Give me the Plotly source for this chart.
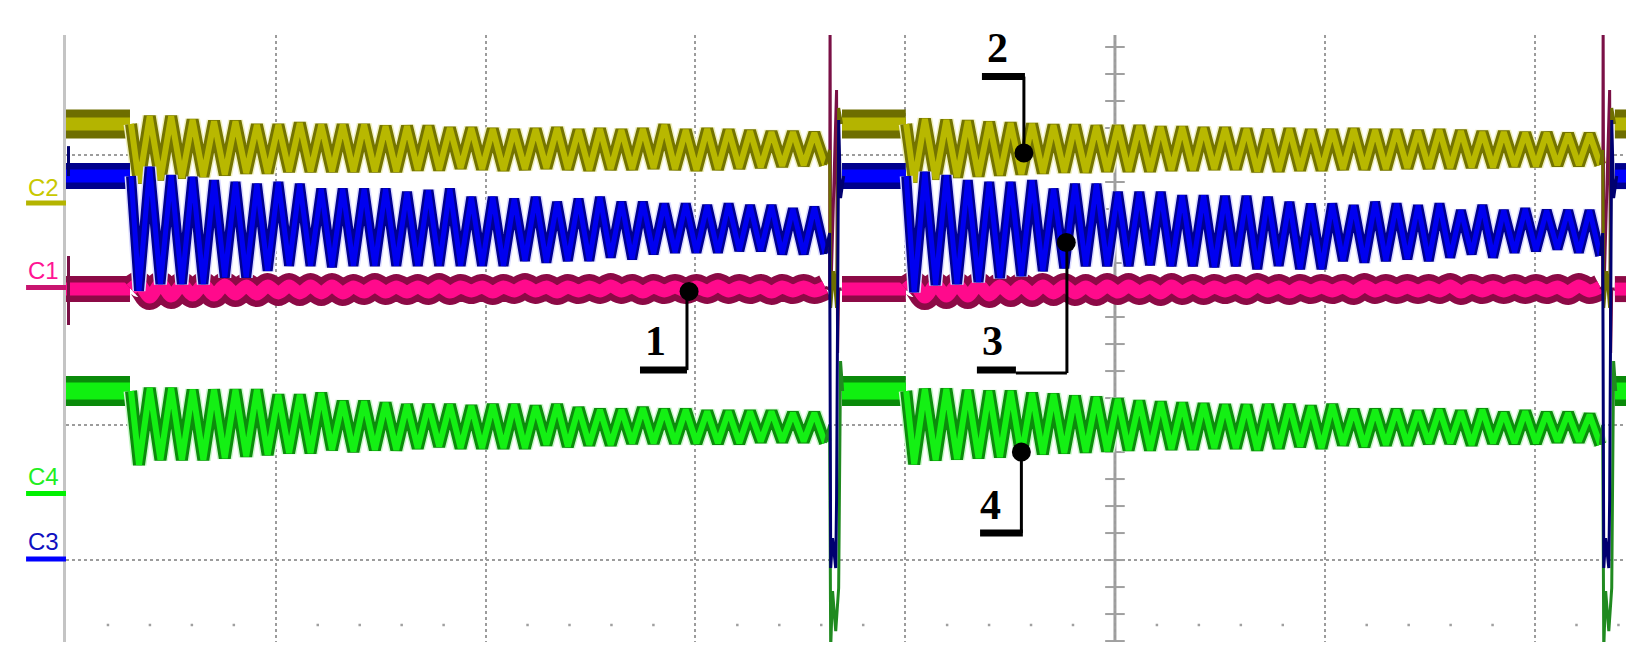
import numpy as np
import plotly.graph_objects as go

# Screen units are scope graticule divisions (x: time, y: screen height).
X_MAX = 7.436
Y_MIN, Y_MAX = -0.607, 3.889

half_period = 0.0511                 # trough -> next peak, div
burst_start = [0.310, 4.005]         # steady part ends, oscillation begins
burst_first = [0.348, 4.043]         # first trough of each burst
spike_time = [3.640, 7.325]          # switching transient
steady_windows = [(0.0, 0.305), (3.699, 4.003), (7.383, 7.44)]

# steady (pre-disturbance) levels
level = {'C1': 2.007, 'C2': 3.230, 'C3': 2.844, 'C4': 1.252}

# C2 (olive) extrema, burst A and B
c2_a_troughs = [2.793, 2.817, 2.830, 2.842, 2.854, 2.867, 2.867, 2.879, 2.879, 2.879, 2.879, 2.879, 2.879, 2.891, 2.891, 2.904, 2.896,
                2.889, 2.896, 2.904, 2.896, 2.889, 2.896, 2.896, 2.904, 2.896, 2.889, 2.896, 2.904, 2.911, 2.919, 2.926, 2.926]
c2_a_peaks = [3.287, 3.287, 3.261, 3.250, 3.250, 3.224, 3.224, 3.237, 3.224, 3.224, 3.224, 3.213, 3.213, 3.213, 3.200, 3.200,
              3.193, 3.185, 3.193, 3.200, 3.185, 3.193, 3.185, 3.193, 3.222, 3.185, 3.193, 3.185, 3.178, 3.170, 3.170, 3.163]
c2_b_troughs = [2.800, 2.822, 2.837, 2.844, 2.852, 2.859, 2.867, 2.874, 2.874, 2.881, 2.881, 2.881, 2.889, 2.889, 2.896, 2.896, 2.879,
                2.881, 2.889, 2.889, 2.896, 2.896, 2.896, 2.904, 2.904, 2.904, 2.911, 2.911, 2.919, 2.919, 2.926, 2.926, 2.926]
c2_b_peaks = [3.267, 3.259, 3.252, 3.244, 3.237, 3.230, 3.222, 3.222, 3.215, 3.215, 3.215, 3.207, 3.207, 3.200, 3.200, 3.193,
              3.187, 3.193, 3.185, 3.185, 3.193, 3.185, 3.185, 3.178, 3.185, 3.178, 3.170, 3.170, 3.163, 3.163, 3.156, 3.156]

# C3 (blue)
c3_a_troughs = [1.995, 2.044, 2.044, 2.044, 2.094, 2.094, 2.143, 2.180, 2.180, 2.170, 2.180, 2.180, 2.180, 2.180, 2.180, 2.180, 2.180,
                2.180, 2.217, 2.205, 2.217, 2.217, 2.242, 2.230, 2.267, 2.279, 2.279, 2.279, 2.291, 2.291, 2.267, 2.267, 2.267]
c3_a_peaks = [2.911, 2.850, 2.837, 2.813, 2.800, 2.787, 2.800, 2.787, 2.750, 2.750, 2.750, 2.750, 2.726, 2.739, 2.750, 2.689,
              2.689, 2.676, 2.689, 2.652, 2.676, 2.689, 2.652, 2.652, 2.639, 2.639, 2.627, 2.639, 2.627, 2.627, 2.602, 2.615]
c3_b_troughs = [1.985, 2.037, 2.044, 2.059, 2.089, 2.104, 2.141, 2.163, 2.178, 2.178, 2.178, 2.185, 2.178, 2.178, 2.170, 2.178, 2.156,
                2.180, 2.156, 2.156, 2.217, 2.205, 2.217, 2.230, 2.217, 2.242, 2.267, 2.242, 2.279, 2.291, 2.304, 2.279, 2.254]
c3_b_peaks = [2.874, 2.850, 2.813, 2.800, 2.800, 2.813, 2.750, 2.787, 2.787, 2.726, 2.726, 2.726, 2.701, 2.701, 2.696, 2.696,
              2.689, 2.652, 2.639, 2.639, 2.627, 2.652, 2.639, 2.627, 2.639, 2.590, 2.627, 2.590, 2.602, 2.590, 2.590, 2.590]

# C4 (green)
c4_a_troughs = [0.706, 0.743, 0.743, 0.743, 0.756, 0.768, 0.780, 0.793, 0.793, 0.817, 0.805, 0.817, 0.817, 0.830, 0.842, 0.830, 0.830,
                0.830, 0.830, 0.854, 0.842, 0.854, 0.854, 0.867, 0.867, 0.867, 0.867, 0.867, 0.867, 0.879, 0.879, 0.879, 0.867]
c4_a_peaks = [1.274, 1.274, 1.261, 1.261, 1.261, 1.261, 1.224, 1.224, 1.237, 1.176, 1.176, 1.163, 1.150, 1.150, 1.150, 1.141,
              1.150, 1.150, 1.139, 1.150, 1.126, 1.113, 1.113, 1.126, 1.113, 1.113, 1.101, 1.101, 1.101, 1.101, 1.089, 1.089]
c4_b_troughs = [0.711, 0.741, 0.748, 0.756, 0.763, 0.770, 0.785, 0.793, 0.800, 0.807, 0.815, 0.815, 0.822, 0.822, 0.830, 0.830, 0.817,
                0.830, 0.842, 0.830, 0.854, 0.842, 0.854, 0.854, 0.867, 0.867, 0.854, 0.867, 0.867, 0.867, 0.879, 0.879, 0.854]
c4_b_peaks = [1.267, 1.267, 1.259, 1.252, 1.252, 1.237, 1.230, 1.215, 1.207, 1.193, 1.178, 1.170, 1.163, 1.156, 1.148, 1.148,
              1.150, 1.150, 1.139, 1.150, 1.113, 1.113, 1.113, 1.101, 1.113, 1.101, 1.113, 1.089, 1.101, 1.089, 1.089, 1.076]

# C1 (magenta) - small ripple in anti-phase (values at trough / peak instants of the others)
c1_a_up = [2.044, 2.044, 2.037, 2.037, 2.037, 2.030, 2.030, 2.030, 2.030, 2.030, 2.022, 2.030, 2.022, 2.022, 2.030, 2.022, 2.022,
           2.022, 2.030, 2.022, 2.022, 2.022, 2.030, 2.022, 2.022, 2.022, 2.022, 2.030, 2.022, 2.022, 2.022, 2.022, 2.022]
c1_a_dn = [1.948, 1.956, 1.963, 1.963, 1.970, 1.970, 1.978, 1.978, 1.978, 1.978, 1.985, 1.985, 1.985, 1.985, 1.985, 1.993,
           1.985, 1.993, 1.993, 1.985, 1.993, 1.993, 1.993, 1.985, 1.993, 1.993, 1.993, 1.993, 1.993, 1.985, 1.993, 1.993]
c1_b_up = [2.044, 2.037, 2.037, 2.037, 2.030, 2.030, 2.030, 2.030, 2.022, 2.030, 2.030, 2.022, 2.030, 2.022, 2.022, 2.022, 2.030,
           2.022, 2.022, 2.022, 2.022, 2.030, 2.022, 2.022, 2.022, 2.030, 2.022, 2.022, 2.022, 2.022, 2.022, 2.030, 2.022]
c1_b_dn = [1.948, 1.956, 1.956, 1.963, 1.970, 1.970, 1.978, 1.978, 1.978, 1.985, 1.985, 1.978, 1.985, 1.985, 1.993, 1.985,
           1.993, 1.985, 1.993, 1.993, 1.985, 1.993, 1.993, 1.993, 1.993, 1.985, 1.993, 1.993, 1.993, 1.993, 1.985, 1.993]

# switching transient: time offsets from spike_time and screen values
spike_dt = {'C1': [0, 0.002, 0.005, 0.019, 0.033, 0.038, 0.043, 0.057],
            'C2': [0, 0.005, 0.019, 0.033, 0.043, 0.057],
            'C3': [0, 0.005, 0.014, 0.029, 0.033, 0.043, 0.052, 0.067],
            'C4': [0, 0.005, 0.014, 0.029, 0.043, 0.052, 0.062]}
spike_val = {'C1': [2.007, 3.978, 1.941, 2.704, 3.481, 1.533, 2.007, 2.007],
             'C2': [3.037, 1.867, 2.141, 1.867, 3.348, 3.230],
             'C3': [2.422, -0.059, 0.163, -0.059, 0.444, 3.259, 2.681, 2.844],
             'C4': [1.000, -0.652, -0.230, -0.526, -0.207, 1.474, 1.252]}

bursts = {'C1': [(c1_a_up, c1_a_dn), (c1_b_up, c1_b_dn)],
          'C2': [(c2_a_troughs, c2_a_peaks), (c2_b_troughs, c2_b_peaks)],
          'C3': [(c3_a_troughs, c3_a_peaks), (c3_b_troughs, c3_b_peaks)],
          'C4': [(c4_a_troughs, c4_a_peaks), (c4_b_troughs, c4_b_peaks)]}

# channel ground markers at the left edge
marker_text_y = {'C2': 2.756, 'C1': 2.144, 'C4': 0.619, 'C3': 0.137}
marker_line_y = {'C2': 2.644, 'C1': 2.019, 'C4': 0.493, 'C3': 0.007}

styles = {
    'C1': dict(steady=[('#8c0a46', 26), ('#ff0a8c', 13)], osc=[('#8c0a46', 26), ('#ff0a8c', 13)], shape='spline',
               spike=('#7a1046', 3), text='#ff1493', mark='#c81470'),
    'C2': dict(steady=[('#6e6e00', 29), ('#b4b400', 13)], osc=[('#f0f0c0', 15), ('#747400', 12), ('#b8b800', 6)], shape='linear',
               spike=('#6e6e00', 3), text='#c8c800', mark='#b4b400'),
    'C3': dict(steady=[('#00008c', 26), ('#0000ff', 13)], osc=[('#dcdcff', 13), ('#000090', 10), ('#0000f0', 5)], shape='linear',
               spike=('#000070', 3), text='#1010c0', mark='#0000ff'),
    'C4': dict(steady=[('#0a8a0a', 30), ('#10f010', 17)], osc=[('#ccf8cc', 15), ('#0c8c0c', 12), ('#14f014', 6)], shape='linear',
               spike=('#208a20', 3), text='#22ee22', mark='#00f000'),
}

# numbered callouts: text position, underline bar, leader path, dot
callouts = [
    dict(n='1', text=(2.812, 1.62), bar=(2.736, 2.960, 1.407), path=[(2.960, 1.407), (2.960, 1.990)], dot=(2.970, 1.990)),
    dict(n='2', text=(4.438, 3.79), bar=(4.366, 4.571, 3.581), path=[(4.566, 3.581), (4.566, 3.015)], dot=(4.566, 3.015)),
    dict(n='3', text=(4.416, 1.62), bar=(4.342, 4.528, 1.407), path=[(4.528, 1.385), (4.771, 1.385), (4.771, 2.352)], dot=(4.768, 2.352)),
    dict(n='4', text=(4.407, 0.41), bar=(4.357, 4.561, 0.200), path=[(4.554, 0.200), (4.554, 0.800)], dot=(4.554, 0.800)),
]


def burst_xy(t_start, t_first, lvl, first, second):
    vals = []
    for i in range(len(first)):
        vals.append(first[i])
        if i < len(second):
            vals.append(second[i])
    t = t_first + half_period * np.arange(len(vals))
    return [t_start] + list(t), [lvl] + vals


def to_paper(v):
    return (v - Y_MIN) / (Y_MAX - Y_MIN)


fig = go.Figure()

# graticule: centre axis ticks and the row of dots near the bottom edge
ticks_y = np.arange(-0.6, 3.81, 0.2)
fig.add_trace(go.Scatter(x=[5] * len(ticks_y), y=ticks_y, mode='markers', hoverinfo='skip',
                         marker=dict(symbol='line-ew', size=14, line=dict(color='#a0a0a0', width=2))))
dots_x = [round(v, 2) for v in np.arange(0.2, X_MAX, 0.2) if abs(v - round(v)) > 0.05]
fig.add_trace(go.Scatter(x=dots_x, y=[-0.481] * len(dots_x), mode='markers', hoverinfo='skip',
                         marker=dict(symbol='square', size=2.5, color='#a0a0a0')))

spike_traces = []
for ch in ['C1', 'C2', 'C4', 'C3']:
    st = styles[ch]
    sx, sy = [], []
    for a, b in steady_windows:
        sx += [a, b, None]
        sy += [level[ch], level[ch], None]
    for color, w in st['steady']:
        fig.add_trace(go.Scatter(x=sx, y=sy, mode='lines', line=dict(color=color, width=w), hoverinfo='skip'))

    ox, oy, px_, py_ = [], [], [], []
    for k, (first, second) in enumerate(bursts[ch]):
        bx, by = burst_xy(burst_start[k], burst_first[k], level[ch], first, second)
        ox += bx + [None]
        oy += by + [None]
        px_ += [bx[-1]] + [spike_time[k] + d for d in spike_dt[ch]] + [None]
        py_ += [by[-1]] + spike_val[ch] + [None]
    for color, w in st['osc']:
        fig.add_trace(go.Scatter(x=ox, y=oy, mode='lines', hoverinfo='skip',
                                 line=dict(color=color, width=w, shape=st['shape'], smoothing=0.8)))
    spike_traces.append((px_, py_, st['spike']))

# tail of the previous transient at the left edge
spike_traces.append(([0.012, 0.012], [2.252, 1.741], styles['C1']['spike']))
spike_traces.append(([0.012, 0.012], [3.066, 2.844], styles['C3']['spike']))
for x, y, (color, w) in spike_traces:
    fig.add_trace(go.Scatter(x=x, y=y, mode='lines', line=dict(color=color, width=w), hoverinfo='skip'))

# centre vertical axis
fig.add_shape(type='line', x0=5, x1=5, y0=Y_MIN, y1=Y_MAX, line=dict(color='#a0a0a0', width=3), layer='below')

# channel markers
for ch in ['C1', 'C2', 'C3', 'C4']:
    fig.add_shape(type='line', xref='paper', yref='paper', x0=-0.0256, x1=0.0, y0=to_paper(marker_line_y[ch]),
                  y1=to_paper(marker_line_y[ch]), line=dict(color=styles[ch]['mark'], width=5))
    fig.add_annotation(xref='paper', yref='y', x=-0.0256, y=marker_text_y[ch], text=ch, showarrow=False,
                       xanchor='left', yanchor='middle',
                       font=dict(family='Liberation Sans, Arial', size=24, color=styles[ch]['text']))

# numbered callouts
for c in callouts:
    x0, x1, yb = c['bar']
    fig.add_shape(type='line', x0=x0, x1=x1, y0=yb, y1=yb, line=dict(color='black', width=7), layer='above')
    for (xa, ya), (xb, yb2) in zip(c['path'][:-1], c['path'][1:]):
        fig.add_shape(type='line', x0=xa, x1=xb, y0=ya, y1=yb2, line=dict(color='black', width=3), layer='above')
    fig.add_annotation(x=c['text'][0], y=c['text'][1], text='<b>' + c['n'] + '</b>', showarrow=False,
                       xanchor='center', yanchor='middle',
                       font=dict(family='Liberation Serif, Times New Roman', size=42, color='black'))
fig.add_trace(go.Scatter(x=[c['dot'][0] for c in callouts], y=[c['dot'][1] for c in callouts], mode='markers',
                         marker=dict(color='black', size=19), hoverinfo='skip'))

fig.update_xaxes(range=[0, X_MAX], showgrid=True, gridcolor='#9c9c9c', gridwidth=2, griddash='dot', tick0=0, dtick=1,
                 showticklabels=False, ticks='', zeroline=False, showline=False)
fig.update_yaxes(range=[Y_MIN, Y_MAX], showgrid=True, gridcolor='#9c9c9c', gridwidth=2, griddash='dot', tick0=0, dtick=1,
                 showticklabels=False, ticks='', zeroline=False, showline=True, linecolor='#c4c4c4', linewidth=3)
fig.update_layout(width=1650, height=662, autosize=False, margin=dict(l=58, r=32, t=27, b=28),
                  plot_bgcolor='white', paper_bgcolor='white', showlegend=False)

fig.write_html("out.html")
